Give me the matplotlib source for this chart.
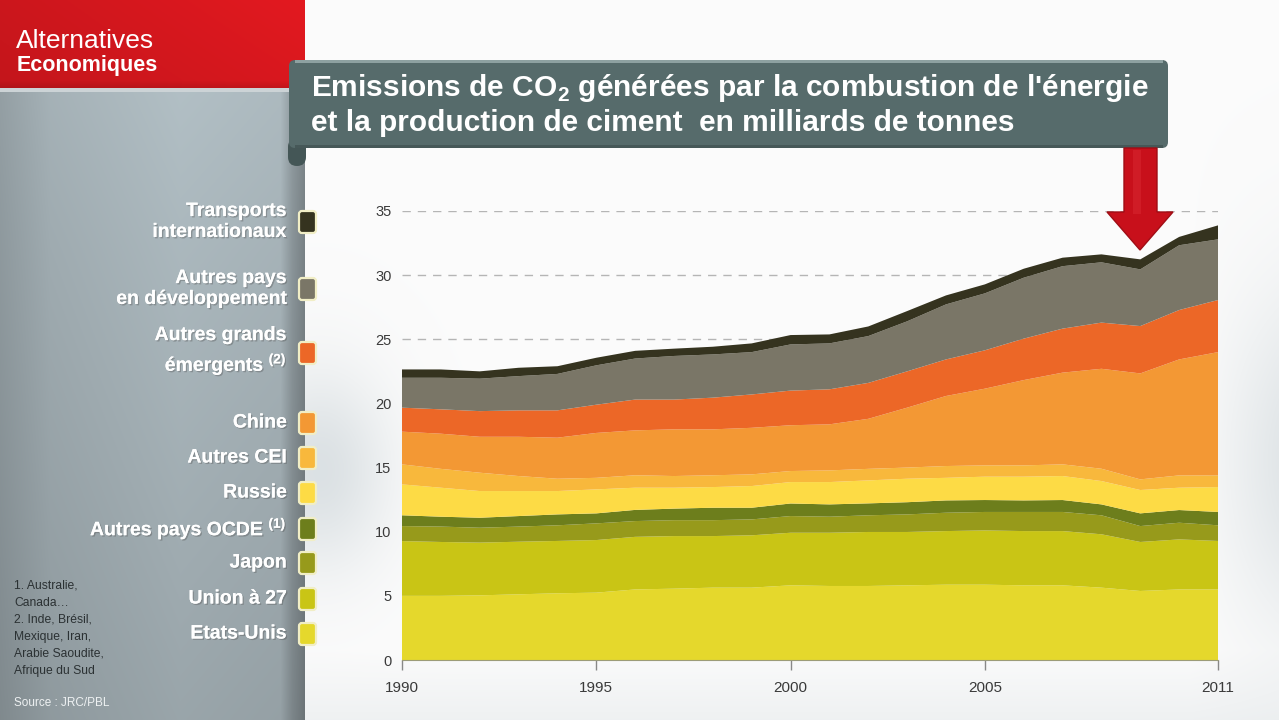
import numpy as np
import matplotlib.pyplot as plt
from matplotlib.patches import FancyBboxPatch, Rectangle, Polygon
import matplotlib.patheffects as pe

W, H = 1279, 720

years = np.arange(1990, 2012)

# milliards de tonnes (epaisseur de chaque couche)
etats_unis = [5.00, 5.00, 5.04, 5.12, 5.20, 5.25, 5.50, 5.56, 5.64, 5.64, 5.82,
              5.77, 5.77, 5.82, 5.87, 5.87, 5.82, 5.82, 5.64, 5.38, 5.50, 5.50]
union_27 = [4.27, 4.20, 4.11, 4.10, 4.08, 4.10, 4.10, 4.10, 4.02, 4.08, 4.10,
            4.15, 4.21, 4.16, 4.18, 4.23, 4.23, 4.23, 4.16, 3.82, 3.90, 3.78]
japon = [1.17, 1.20, 1.16, 1.18, 1.22, 1.30, 1.23, 1.24, 1.24, 1.24, 1.30,
         1.25, 1.30, 1.37, 1.43, 1.44, 1.49, 1.49, 1.48, 1.24, 1.30, 1.22]
autres_ocde = [0.84, 0.77, 0.78, 0.82, 0.85, 0.78, 0.87, 0.90, 0.97, 0.91, 0.98,
               0.96, 0.93, 0.95, 0.96, 0.93, 0.90, 0.93, 0.85, 0.99, 0.99, 1.04]
russie = [2.41, 2.26, 2.08, 1.95, 1.82, 1.87, 1.73, 1.63, 1.61, 1.69, 1.67,
          1.74, 1.79, 1.83, 1.76, 1.82, 1.85, 1.87, 1.82, 1.82, 1.74, 1.94]
autres_cei = [1.56, 1.47, 1.43, 1.17, 0.96, 0.90, 0.97, 0.91, 0.92, 0.91, 0.86,
              0.91, 0.90, 0.87, 0.92, 0.88, 0.88, 0.91, 0.96, 0.83, 0.96, 0.91]
chine = [2.55, 2.74, 2.80, 3.06, 3.20, 3.50, 3.50, 3.64, 3.58, 3.63, 3.57,
         3.59, 3.90, 4.67, 5.46, 5.98, 6.65, 7.15, 7.79, 8.26, 9.04, 9.61]
autres_emergents = [1.87, 1.90, 2.00, 2.06, 2.13, 2.20, 2.40, 2.32, 2.47, 2.60, 2.70,
                    2.73, 2.80, 2.83, 2.85, 2.99, 3.23, 3.43, 3.60, 3.69, 3.85, 4.06]
autres_dev = [2.33, 2.46, 2.53, 2.67, 2.84, 3.07, 3.20, 3.40, 3.37, 3.30, 3.60,
              3.58, 3.65, 3.90, 4.29, 4.44, 4.75, 4.87, 4.70, 4.42, 5.05, 4.73]
transports = [0.65, 0.65, 0.57, 0.65, 0.60, 0.59, 0.60, 0.57, 0.60, 0.68, 0.73,
              0.70, 0.75, 0.80, 0.70, 0.70, 0.70, 0.66, 0.62, 0.78, 0.65, 1.09]

series = [etats_unis, union_27, japon, autres_ocde, russie, autres_cei,
          chine, autres_emergents, autres_dev, transports]
colors = ['#e5d82c', '#c9c515', '#979a1b', '#6d7e1c', '#fddb45',
          '#f8b83c', '#f39834', '#ec6727', '#7a7667', '#35331f']

labels = ['Etats-Unis', 'Union à 27', 'Japon', 'Autres pays OCDE $^{\\mathregular{(1)}}$',
          'Russie', 'Autres CEI', 'Chine', 'Autres grands\némergents $^{\\mathregular{(2)}}$',
          'Autres pays\nen développement', 'Transports\ninternationaux']
label_y = [634, 599, 563, 529, 493, 458, 423, 353, 289, 222]

xticks = [1990, 1995, 2000, 2005, 2011]
yticks = [0, 5, 10, 15, 20, 25, 30, 35]

sans = ['Liberation Sans', 'DejaVu Sans']

fig = plt.figure(figsize=(W / 100, H / 100), dpi=100)

# ---- fond ----
bg = fig.add_axes([0, 0, 1, 1])
bg.set_xlim(0, W)
bg.set_ylim(H, 0)
bg.axis('off')

yy, xx = np.mgrid[0:H, 0:W].astype(float)
img = np.ones((H, W, 3)) * 0.985
shade = np.array([0.76, 0.80, 0.82])
w = 0.55 * np.exp(-((xx - 320) / 70) ** 2 - ((yy - 470) / 100) ** 2)
w += 0.45 * np.clip((xx - 1190) / 90, 0, 1) * np.exp(-((yy - 460) / 170) ** 2)
w += 0.22 * np.clip((yy - 650) / 70, 0, 1)
w = np.clip(w, 0, 1)[..., None]
img = img * (1 - w) + shade * w

# panneau gauche
hval = np.interp(xx, [0, 50, 180, 280, 292, 305], [0.60, 0.67, 0.72, 0.70, 0.58, 0.50])
vval = np.interp(yy, [90, 250, 720], [1.04, 1.0, 0.90])
panel = (hval * vval)[..., None] * np.array([0.93, 1.0, 1.03])
mask = (xx < 305)[..., None]
img = np.where(mask, np.clip(panel, 0, 1), img)

# bandeau rouge
rv = np.interp(xx, [0, 305], [0.80, 0.89])[..., None] * np.array([1.0, 0.11, 0.14])
rv = rv * np.interp(yy, [0, 80, 88], [1.0, 0.96, 0.85])[..., None]
img = np.where(((xx < 305) & (yy < 88))[..., None], rv, img)
img = np.where(((xx < 305) & (yy >= 88) & (yy < 92))[..., None], np.array([0.80, 0.83, 0.84]), img)

bg.imshow(img, extent=(0, W, H, 0), aspect='auto', zorder=0)

bg.text(16, 41, 'Alternatives', color='white', fontsize=19, family=sans,
        va='center', ha='left', zorder=3)
bg.text(17, 65, 'Economiques', color='white', fontsize=15.5, family=sans,
        weight='bold', va='center', ha='left', zorder=3)

# bandeau titre
bg.add_patch(FancyBboxPatch((288, 138), 18, 28, boxstyle='round,pad=0,rounding_size=9',
                            fc='#445656', ec='none', zorder=2))
bg.add_patch(FancyBboxPatch((289, 60), 879, 88, boxstyle='round,pad=0,rounding_size=6',
                            fc='#566b6b', ec='none', zorder=3))
bg.add_patch(Rectangle((295, 60), 868, 3, fc='#8ea1a1', ec='none', zorder=3))
bg.add_patch(Rectangle((295, 145), 868, 3, fc='#465858', ec='none', zorder=3))
bg.text(311, 88, "Emissions de CO$_\\mathregular{2}$ générées par la combustion de l'énergie",
        color='white', fontsize=21.5, weight='bold', family=sans, va='center', ha='left', zorder=4)
bg.text(311, 123, "et la production de ciment  en milliards de tonnes",
        color='white', fontsize=21.5, weight='bold', family=sans, va='center', ha='left', zorder=4)

# legende
shadow = [pe.withSimplePatchShadow(offset=(1, -1), alpha=0.35), pe.Normal()]
for lab, ly, col in zip(labels, label_y, colors):
    bg.text(287, ly, lab, color='white', fontsize=14, weight='bold', family=sans,
            ha='right', va='center', multialignment='right', linespacing=1.3,
            path_effects=shadow, zorder=4)
    bg.add_patch(FancyBboxPatch((299, ly - 11), 17, 22, boxstyle='round,pad=0,rounding_size=3',
                                fc=col, ec='#f1eec6', lw=1.6, zorder=4))

notes = "1. Australie,\nCanada…\n2. Inde, Brésil,\nMexique, Iran,\nArabie Saoudite,\nAfrique du Sud"
bg.text(14, 580, notes, color='#2b3133', fontsize=8.7, family=sans, ha='left', va='top',
        linespacing=1.55, zorder=4)
bg.text(14, 703, 'Source : JRC/PBL', color='#eef1f2', fontsize=8.5, family=sans,
        ha='left', va='center', zorder=4)

# ---- graphique ----
ax = fig.add_axes([402 / W, (H - 660) / H, 816 / W, 449 / H])
ax.set_zorder(2)
ax.patch.set_alpha(0)
ax.stackplot(years, *series, colors=colors, lw=0, zorder=2)
for v in (25, 30, 35):
    ax.axhline(v, color='#b5b5b5', ls=(0, (6, 5)), lw=1, zorder=1)
ax.set_xlim(1990, 2011)
ax.set_ylim(0, 35)
ax.set_yticks(yticks)
ax.set_xticks(xticks)
for s in ('left', 'right', 'top'):
    ax.spines[s].set_visible(False)
ax.spines['bottom'].set_color('#9c9c78')
ax.tick_params(axis='y', length=0, pad=7.5, labelsize=10.5, labelcolor='#3a3a3a')
ax.tick_params(axis='x', length=7, width=1, color='#888888', pad=8, labelsize=11,
               labelcolor='#3a3a3a')
for t in ax.get_xticklabels() + ax.get_yticklabels():
    t.set_family(sans)

# fleche rouge
ov = fig.add_axes([0, 0, 1, 1])
ov.set_zorder(3)
ov.patch.set_alpha(0)
ov.set_xlim(0, W)
ov.set_ylim(H, 0)
ov.axis('off')
ov.add_patch(Polygon([(1124, 148), (1157, 148), (1157, 212), (1173, 212), (1140, 250),
                      (1107, 212), (1124, 212)], closed=True, fc='#c8101b', ec='#a00d15', lw=1))
ov.add_patch(Polygon([(1133, 150), (1141, 150), (1141, 214), (1133, 214)], closed=True,
                     fc='#e0353b', ec='none', alpha=0.35))

fig.savefig('out.png', dpi=100)
